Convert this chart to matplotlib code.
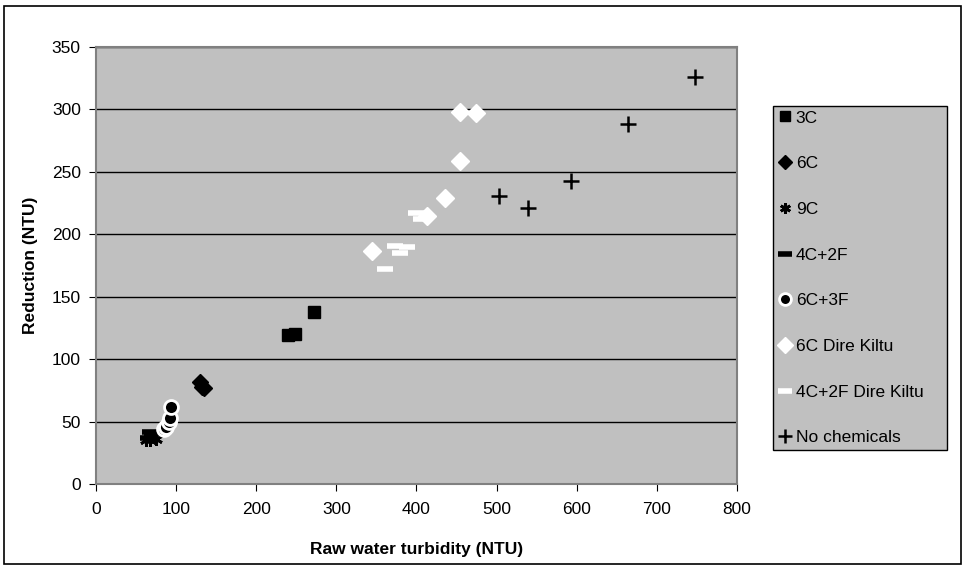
import numpy as np
import matplotlib
matplotlib.use('Agg')
import matplotlib.pyplot as plt
from matplotlib.patches import Rectangle

plt.rcParams['font.family'] = ['Liberation Sans', 'DejaVu Sans']

# raw water turbidity (NTU) and reduction (NTU) for each treatment
x_3c = [240, 248, 272]
y_3c = [119, 120, 138]
x_6c = [130, 132, 135]
y_6c = [82, 78, 77]
x_9c = [62, 68, 75]
y_9c = [35, 35, 36]
x_4c2f = [65, 68, 70]
y_4c2f = [37, 42, 40]
x_6c3f = [85, 87, 91, 92, 94]
y_6c3f = [44, 46, 50, 53, 62]
x_6c_dk = [344, 413, 436, 454, 454, 474]
y_6c_dk = [187, 215, 229, 259, 298, 297]
x_4c2f_dk = [361, 373, 380, 388, 400, 405]
y_4c2f_dk = [172, 191, 185, 190, 217, 212]
x_none = [503, 539, 593, 664, 747]
y_none = [231, 221, 243, 288, 326]

fig = plt.figure(figsize=(9.64, 5.67), dpi=100)
ax = fig.add_axes([0.0996, 0.1464, 0.6649, 0.7707])
ax.set_facecolor('#C0C0C0')

ax.plot(x_3c, y_3c, 's', color='black', markersize=8.5, label='3C', zorder=3)
ax.plot(x_6c, y_6c, 'D', color='black', markersize=8, label='6C', zorder=3)
ax.plot(x_9c, y_9c, marker=(6, 2, 0), linestyle='none', color='black',
        markersize=9, markeredgewidth=2, label='9C', zorder=3)
ax.plot(x_4c2f, y_4c2f, '_', color='black', markersize=12,
        markeredgewidth=4, label='4C+2F', zorder=3)
ax.plot(x_6c3f, y_6c3f, 'o', markerfacecolor='black', markeredgecolor='white',
        markersize=10, markeredgewidth=2, label='6C+3F', zorder=3)
ax.plot(x_6c_dk, y_6c_dk, 'D', color='white', markersize=9,
        label='6C Dire Kiltu', zorder=3)
ax.plot(x_4c2f_dk, y_4c2f_dk, '_', color='white', markersize=12,
        markeredgewidth=4, label='4C+2F Dire Kiltu', zorder=3)
ax.plot(x_none, y_none, '+', color='black', markersize=12,
        markeredgewidth=1.8, label='No chemicals', zorder=3)

ax.set_xlim(0, 800)
ax.set_ylim(0, 350)
ax.set_xticks(np.arange(0, 801, 100))
ax.set_yticks(np.arange(0, 351, 50))
ax.yaxis.grid(True, color='black', linewidth=1)
ax.set_axisbelow(True)
for s in ax.spines.values():
    s.set_color('#808080')
    s.set_linewidth(1.5)
ax.tick_params(direction='out', length=5, color='black', labelsize=12.5)
ax.tick_params(axis='x', pad=8)
ax.tick_params(axis='y', pad=6)
ax.set_xlabel('Raw water turbidity (NTU)', fontsize=12.5, fontweight='bold', labelpad=18)
ax.set_ylabel('Reduction (NTU)', fontsize=12.5, fontweight='bold', labelpad=10)

leg = ax.legend(loc='upper left', bbox_to_anchor=(0.802, 0.21, 0.1805, 0.603),
                bbox_transform=fig.transFigure, mode='expand',
                fontsize=12.5, frameon=True, fancybox=False, handlelength=0.9,
                handletextpad=0.15, borderpad=0.25, labelspacing=1.76,
                borderaxespad=0, numpoints=1, markerscale=0.85)
leg.get_frame().set_facecolor('#C0C0C0')
leg.get_frame().set_edgecolor('black')
leg.get_frame().set_linewidth(1)
leg.get_frame().set_alpha(1)

# outer border of the chart
fig.patches.append(Rectangle((0.004, 0.005), 0.993, 0.985, transform=fig.transFigure,
                             fill=False, edgecolor='black', linewidth=1.2))

fig.savefig('out.png', dpi=100)
